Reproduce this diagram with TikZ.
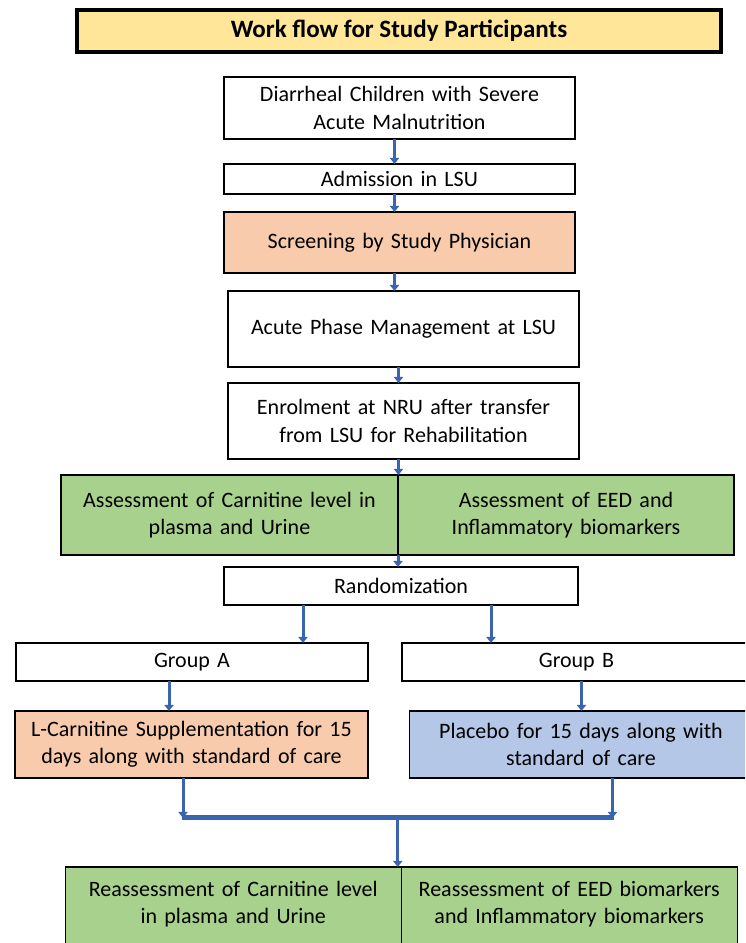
\documentclass[tikz,border=0pt]{standalone}
\usepackage{fontspec}
\setmainfont{Carlito}
\usepackage{xcolor}
\usepackage{tikz}
\usetikzlibrary{arrows.meta, positioning, calc}
\definecolor{titlefill}{HTML}{FFE699}
\definecolor{peach}{HTML}{F8CBAD}
\definecolor{leaf}{HTML}{A9D18E}
\definecolor{sky}{HTML}{B4C7E7}
\definecolor{flowblue}{HTML}{3B64B0}

\begin{document}
\begin{tikzpicture}[x=1pt, y=1pt,
    font=\fontsize{22}{27.5}\selectfont,
    box/.style={rectangle, draw, line width=1.3pt, fill=white, align=center,
        inner sep=2pt, outer sep=0pt, minimum width=351pt, text width=345pt},
    flow/.style={draw=flowblue, line width=3pt, -{Triangle[width=9pt,length=6pt]}}]

\useasboundingbox (0,0) rectangle (745,943);
\clip (0,0) rectangle (745,943);

% --- Title ---
\node[rectangle, draw, line width=4pt, fill=titlefill, minimum width=644pt,
    minimum height=42pt, font=\fontsize{25}{30}\selectfont\bfseries] (title)
    at (399,912) {Work flow for Study Participants};

% --- Main column ---
\node[box, minimum height=62pt] (child) at (399.5,835)
    {Diarrheal Children with Severe\\Acute Malnutrition};
\node[box, minimum height=30pt, below=25pt of child] (admit) {Admission in LSU};
\node[box, minimum height=61pt, fill=peach, below=18pt of admit] (screen)
    {Screening by Study Physician};
\node[box, minimum height=76pt, below=18pt of screen, xshift=4pt] (acute)
    {Acute Phase Management at LSU};
\node[box, minimum height=76pt, below=16pt of acute] (enrol)
    {Enrolment at NRU after transfer\\from LSU for Rehabilitation};

% --- Baseline assessment ---
\node[box, fill=leaf, minimum width=337pt, text width=331pt, minimum height=80pt,
    below left=16pt and 0pt of enrol.south, xshift=-5.5pt] (carnL)
    {Assessment of Carnitine level in\\plasma and Urine};
\node[box, fill=leaf, minimum width=336pt, text width=330pt, minimum height=80pt,
    right=0pt of carnL] (eedR)
    {Assessment of EED and\\Inflammatory biomarkers};

% --- Randomization ---
\node[box, minimum width=354pt, minimum height=38pt,
    below=12pt of carnL.south east, xshift=3pt] (rand) {Randomization};
\node[box, minimum width=352pt, minimum height=38pt,
    below left=38pt and 33pt of rand.south] (grpA) {Group A};
\node[box, minimum width=348pt, minimum height=38pt,
    below right=38pt and 1pt of rand.south] (grpB) {Group B};

% --- Treatment arms ---
\node[box, fill=peach, minimum width=353pt, text width=347pt, minimum height=67pt,
    below=30pt of grpA, xshift=-0.5pt] (treatA)
    {L-Carnitine Supplementation for 15\\days along with standard of care};
\node[box, fill=sky, minimum width=343pt, text width=337pt, minimum height=67pt,
    below=30pt of grpB, xshift=4.5pt] (treatB)
    {Placebo for 15 days along with\\standard of care};

% --- Merge ---
\coordinate (joinA) at ([xshift=-8.5pt, yshift=-40pt]treatA.south);
\coordinate (joinB) at ([xshift=31.5pt, yshift=-40pt]treatB.south);
\coordinate (joinM) at ($(joinA)!.5!(joinB)$);

% --- Reassessment ---
\node[box, fill=leaf, minimum width=336pt, text width=330pt, inner ysep=14pt,
    text depth=70pt, below=49pt of joinM, anchor=north east, xshift=3.5pt] (carnR)
    {Reassessment of Carnitine level\\in plasma and Urine};
\node[box, fill=leaf, minimum width=336pt, text width=330pt, inner ysep=14pt,
    text depth=70pt, right=0pt of carnR] (eedF)
    {Reassessment of EED biomarkers\\and Inflammatory biomarkers};

% --- Arrows ---
\foreach \a/\b in {child/admit, admit/screen, screen/acute, acute/enrol, enrol/carnL}
    \draw[flow] ([xshift=-5pt]\a.south) -- ([xshift=-5pt]\a.south |- \b.north);
\draw[flow] (carnL.south east) -- (carnL.south east |- rand.north);

\draw[flow] ([xshift=-98pt]rand.south) -- ([xshift=-98pt]rand.south |- grpA.north);
\draw[flow] ([xshift=90pt]rand.south) -- ([xshift=90pt]rand.south |- grpB.north);

\draw[flow] ([xshift=-23pt]grpA.south) -- ([xshift=-23pt]grpA.south |- treatA.north);
\draw[flow] ([xshift=5pt]grpB.south) -- ([xshift=5pt]grpB.south |- treatB.north);

\draw[flow] (treatA.south -| joinA) -- (joinA);
\draw[flow] (treatB.south -| joinB) -- (joinB);
\draw[draw=flowblue, line width=5pt] ([xshift=-1.5pt]joinA) -- ([xshift=1.5pt]joinB);
\draw[flow] (joinM) -- ([xshift=-3.5pt]carnR.north east);

\end{tikzpicture}
\end{document}
